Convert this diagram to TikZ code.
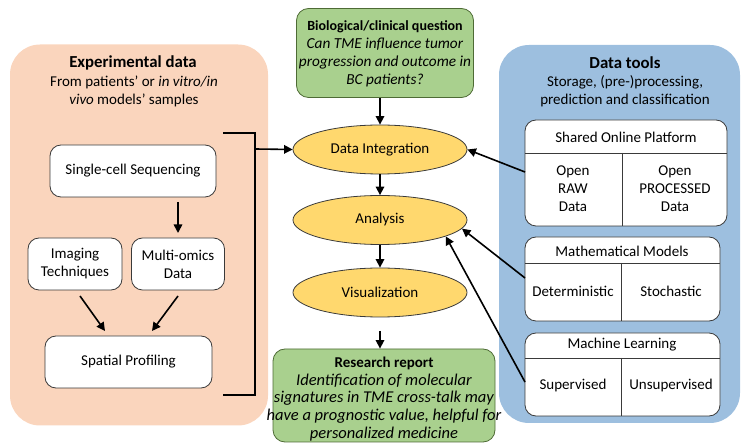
\documentclass[tikz,border=0pt]{standalone}
\usepackage{fontspec}
\setmainfont{Carlito}
\usetikzlibrary{shapes.geometric,arrows.meta}
\definecolor{peach}{HTML}{FAD5BD}
\definecolor{skyb}{HTML}{9DBFDF}
\definecolor{leaf}{HTML}{A9D08E}
\definecolor{leafdark}{HTML}{4E6B35}
\definecolor{yell}{HTML}{FFD86E}
\definecolor{edgegray}{HTML}{3A3A3A}
\begin{document}
\begin{tikzpicture}[x=1pt,y=-1pt,
  panel/.style={draw=none, rounded corners=30pt, inner sep=0pt},
  wbox/.style={draw=edgegray, line width=0.8pt, fill=white, rounded corners=11pt, inner sep=0pt, align=center, font=\fontsize{15}{18}\selectfont},
  gbox/.style={draw=leafdark, line width=0.8pt, fill=leaf, rounded corners=12pt, inner sep=0pt},
  ell/.style={ellipse, draw=edgegray, line width=0.8pt, fill=yell, minimum width=174pt, minimum height=49pt, inner sep=0pt, font=\fontsize{15}{18}\selectfont},
  txt/.style={align=center, inner sep=0pt, font=\fontsize{15}{18}\selectfont},
  gtxt/.style={align=center, inner sep=0pt, font=\fontsize{15.3}{18}\selectfont},
  rtxt/.style={align=center, inner sep=0pt, font=\fontsize{16.5}{17.8}\selectfont},
  ttl/.style={inner sep=0pt, font=\fontsize{16.8}{18}\selectfont\bfseries},
  arr/.style={line width=1.6pt, -{Triangle[length=8.5pt,width=8.5pt]}},
  divl/.style={draw=edgegray, line width=0.8pt}
]
\useasboundingbox (0,0) rectangle (742,443);

% panels
\node[panel, fill=peach, minimum width=258pt, minimum height=381pt] (exp) at (139,235) {};
\node[panel, fill=skyb, minimum width=241pt, minimum height=378pt] (tools) at (619.5,234) {};

% left panel titles
\node[ttl] (expt) at (133,63) {Experimental data};
\node[txt] (exps) at (134,91.5) {From patients' or \textit{in vitro/in}\\\textit{vivo} models' samples};

% left panel boxes
\node[wbox, minimum width=166pt, minimum height=52pt] (scs) at (133,171) {Single-cell Sequencing};
\node[wbox, minimum width=94pt, minimum height=52pt] (img) at (75,264) {Imaging\\Techniques};
\node[wbox, minimum width=93pt, minimum height=52pt] (mo) at (178,264) {Multi-omics\\Data};
\node[wbox, minimum width=167pt, minimum height=52pt] (sp) at (128.5,362) {Spatial Profiling};

\coordinate (scsb) at (178,202);
\coordinate (mot) at (178,233);
\draw[arr] (scsb) -- (mot);
\coordinate (imgb) at (80,296);
\coordinate (spa) at (105,331);
\coordinate (mob) at (178,296);
\coordinate (spb) at (152,331);
\draw[arr] (imgb) -- (spa);
\draw[arr] (mob) -- (spb);

% bracket
\coordinate (bt) at (223,133);
\coordinate (bb) at (223,395);
\coordinate (bm) at (255,149);
\draw[line width=1.2pt] (bt) -| (bb -| bm) -- (bb);

% center column
\node[gbox, minimum width=177pt, minimum height=89pt] (q) at (385,53) {};
\node[gtxt] (qt) at (385,54) {{\fontsize{14}{18}\selectfont\textbf{Biological/clinical question}}\\\textit{Can TME influence tumor}\\\textit{progression and outcome in}\\\textit{BC patients?}};

\node[ell] (di) at (380,149.5) {Data Integration};
\node[ell] (an) at (380,220) {Analysis};
\node[ell] (vi) at (380,292.5) {Visualization};

\node[gbox, minimum width=222pt, minimum height=93pt] (rr) at (384,395.5) {};
\node[rtxt] (rrt) at (384,399) {{\fontsize{15}{17.8}\selectfont\textbf{Research report}}\\\textit{Identification of molecular}\\\textit{signatures in TME cross-talk may}\\\textit{have a prognostic value, helpful for}\\\textit{personalized medicine}};

\coordinate (vib) at (380,331);
\draw[arr] (q.south -| di.north) -- (di.north);
\draw[arr] (di) -- (an);
\draw[arr] (an) -- (vi);
\draw[arr] (vib) -- (rr.north -| vib);
\draw[arr] (bm) -- (di.west);

% right panel titles
\node[ttl] (tt) at (625,63) {Data tools};
\node[txt] (ts) at (625,91.5) {Storage, (pre-)processing,\\prediction and classification};

% Shared Online Platform
\node[wbox, minimum width=202pt, minimum height=106pt] (sop) at (626,173) {};
\draw[divl] (525,153) -- (727,153);
\draw[divl] (622,153) -- (622,226);
\node[txt] (sopt) at (626,137) {Shared Online Platform};
\node[txt] (raw) at (573,189) {Open\\RAW\\Data};
\node[txt] (proc) at (675,189) {Open\\PROCESSED\\Data};

% Mathematical Models
\node[wbox, minimum width=195pt, minimum height=84pt] (mm) at (622.5,279) {};
\draw[divl] (525,263) -- (720,263);
\draw[divl] (621,263) -- (621,321);
\node[txt] (mmt) at (622,251) {Mathematical Models};
\node[txt] (det) at (573,291) {Deterministic};
\node[txt] (sto) at (671,291) {Stochastic};

% Machine Learning
\node[wbox, minimum width=195pt, minimum height=83pt] (ml) at (622.5,374.5) {};
\draw[divl] (525,358) -- (720,358);
\draw[divl] (621,358) -- (621,416);
\node[txt] (mlt) at (622,345) {Machine Learning};
\node[txt] (sup) at (573,386) {Supervised};
\node[txt] (uns) at (671,386) {Unsupervised};

% connectors from tools
\coordinate (s1) at (525,172);
\coordinate (s2) at (525,278);
\coordinate (s3) at (525,382);
\draw[arr] (s1) -- (di.east);
\draw[arr] (s2) -- (an.-6);
\draw[arr] (s3) -- (an.-14);
\end{tikzpicture}
\end{document}
